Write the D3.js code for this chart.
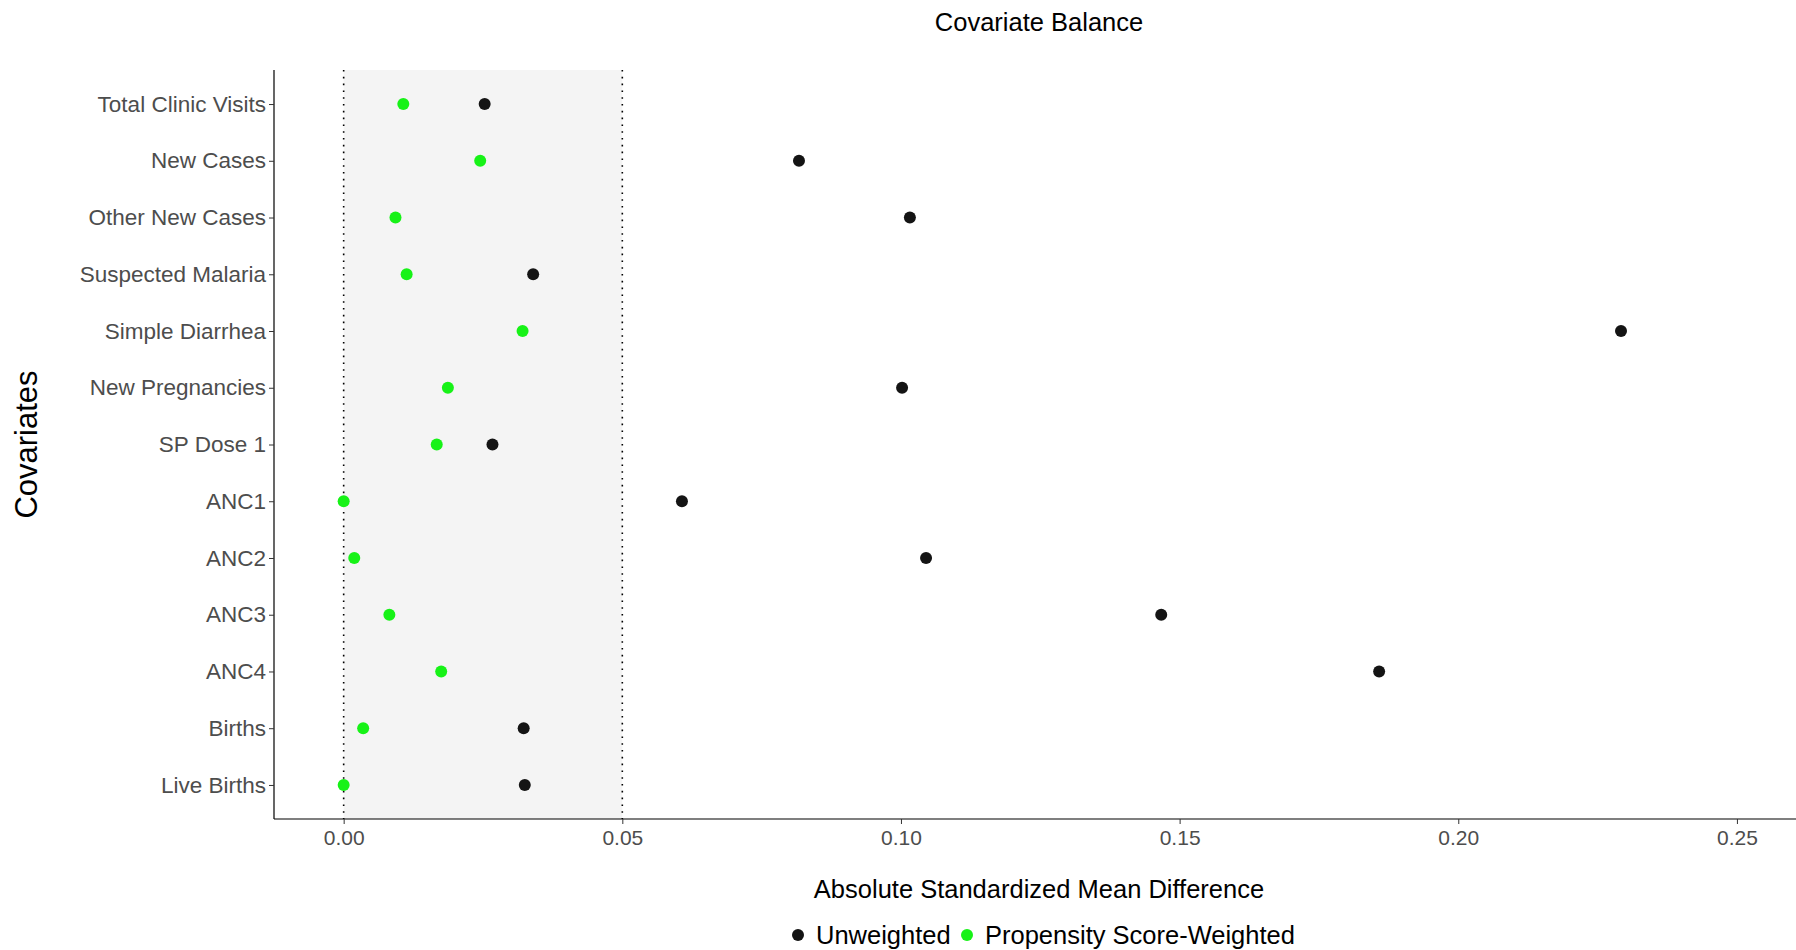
<!DOCTYPE html>
<html lang="en">
<head>
<meta charset="utf-8">
<title>Covariate Balance</title>
<script src="https://cdn.jsdelivr.net/npm/d3@7"></script>
<style>
  html, body { margin: 0; padding: 0; background: white; }
  text { font-family: "Liberation Sans", Arial, sans-serif; }
</style>
</head>
<body>
<script>
var covariates = ["Total Clinic Visits", "New Cases", "Other New Cases", "Suspected Malaria",
  "Simple Diarrhea", "New Pregnancies", "SP Dose 1", "ANC1", "ANC2", "ANC3", "ANC4",
  "Births", "Live Births"];
var unweighted = [0.0253, 0.0817, 0.1016, 0.0340, 0.2292, 0.1002, 0.0267, 0.0607, 0.1045, 0.1467, 0.1858, 0.0323, 0.0325];
var weighted = [0.0107, 0.0245, 0.0093, 0.0113, 0.0321, 0.0187, 0.0167, 0.0000, 0.0019, 0.0082, 0.0175, 0.0035, 0.0000];
var xTicks = [0, 0.05, 0.10, 0.15, 0.20, 0.25];
var threshold = 0.05;

var w = 1796, h = 950;
var pLeft = 274, pRight = 1796, pTop = 70, pBottom = 819;
var black = "#141414", green = "#17f217";

var svg = d3.select("body").append("svg").attr("width", w).attr("height", h);

var x = d3.scaleLinear().domain([-0.0125, 0.2606]).range([pLeft, pRight]);
var y = d3.scalePoint().domain(covariates).range([pTop, pBottom]).padding(0.6);

// shaded balance band
svg.append("rect")
  .attr("x", x(0)).attr("y", pTop)
  .attr("width", x(threshold) - x(0)).attr("height", pBottom - pTop)
  .attr("fill", "#f4f4f4");

// dotted reference lines
[0, threshold].forEach(function(v) {
  svg.append("line")
    .attr("x1", x(v)).attr("x2", x(v))
    .attr("y1", pTop).attr("y2", pBottom)
    .attr("stroke", "#000").attr("stroke-width", 1.6)
    .attr("stroke-dasharray", "1.6,5.2");
});

// axes
var xAxis = d3.axisBottom(x).tickValues(xTicks).tickFormat(d3.format(".2f")).tickSize(5).tickPadding(6);
var gx = svg.append("g").attr("transform", "translate(0," + pBottom + ")").call(xAxis);
gx.select(".domain").attr("stroke", "#000").attr("stroke-width", 1.2).attr("d", "M" + pLeft + ",0H" + pRight);
gx.selectAll(".tick line").attr("stroke", "#333");
gx.selectAll(".tick text").attr("fill", "#4d4d4d").style("font-size", "21px")
  .style("font-family", "Liberation Sans, Arial, sans-serif");

var yAxis = d3.axisLeft(y).tickSize(5).tickPadding(3);
var gy = svg.append("g").attr("transform", "translate(" + pLeft + ",0)").call(yAxis);
gy.select(".domain").attr("stroke", "#000").attr("stroke-width", 1.2).attr("d", "M0," + pTop + "V" + pBottom);
gy.selectAll(".tick line").attr("stroke", "#333");
gy.selectAll(".tick text").attr("fill", "#4d4d4d").style("font-size", "22.5px")
  .style("font-family", "Liberation Sans, Arial, sans-serif");

// points
svg.append("g").selectAll("circle")
  .data(covariates)
  .enter().append("circle")
  .attr("cx", function(d, i) { return x(unweighted[i]); })
  .attr("cy", function(d) { return y(d); })
  .attr("r", 6)
  .attr("fill", black);

svg.append("g").selectAll("circle")
  .data(covariates)
  .enter().append("circle")
  .attr("cx", function(d, i) { return x(weighted[i]); })
  .attr("cy", function(d) { return y(d); })
  .attr("r", 6)
  .attr("fill", green);

// titles
var midX = (pLeft + pRight) / 2 + 4;
svg.append("text").attr("x", midX).attr("y", 31)
  .attr("text-anchor", "middle").style("font-size", "25.5px").attr("fill", "#000")
  .text("Covariate Balance");

svg.append("text").attr("x", midX).attr("y", 898)
  .attr("text-anchor", "middle").style("font-size", "25.5px").attr("fill", "#000")
  .text("Absolute Standardized Mean Difference");

svg.append("text")
  .attr("transform", "translate(37," + ((pTop + pBottom) / 2) + ") rotate(-90)")
  .attr("text-anchor", "middle").style("font-size", "31px").attr("fill", "#000")
  .text("Covariates");

// legend
var legend = [{label: "Unweighted", color: black, x: 798}, {label: "Propensity Score-Weighted", color: green, x: 967}];
legend.forEach(function(l) {
  svg.append("circle").attr("cx", l.x).attr("cy", 935).attr("r", 6).attr("fill", l.color);
  svg.append("text").attr("x", l.x + 18).attr("y", 944)
    .style("font-size", "25.5px").attr("fill", "#000").text(l.label);
});
</script>
</body>
</html>
